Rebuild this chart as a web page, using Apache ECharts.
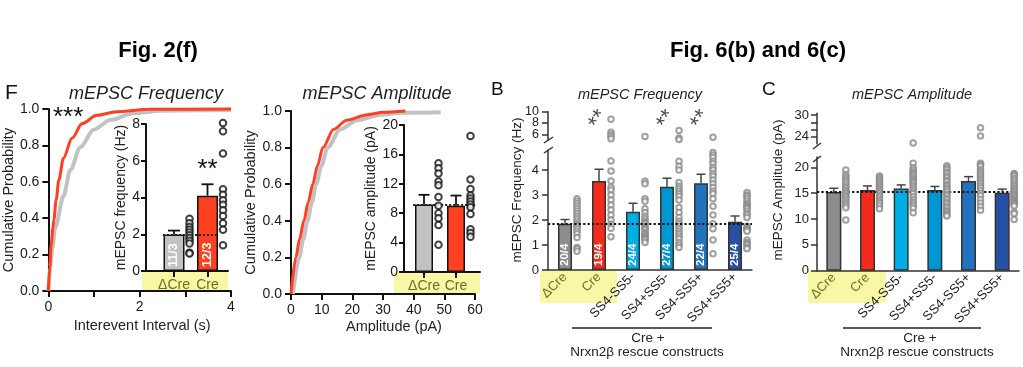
<!DOCTYPE html>
<html>
<head>
<meta charset="utf-8">
<script src="https://cdn.jsdelivr.net/npm/echarts@6.0.0/dist/echarts.min.js"></script>
<style>
html,body{margin:0;padding:0;background:#ffffff;}
#chart{width:1023px;height:367px;}
</style>
</head>
<body>
<div id="chart"></div>
<script>
// ================= DATA =================
// Fig. 2(f) — cumulative distribution, interevent interval (s)
const freqCtrlT = [0, 0.04, 0.09, 0.15, 0.33, 0.48, 0.7, 0.99, 1.36, 1.86, 2.45, 3.2, 4.0];
const freqCtrlP = [0, 0.13, 0.24, 0.35, 0.52, 0.665, 0.79, 0.886, 0.94, 0.977, 0.99, 0.993, 0.995];
const freqCreT  = [0, 0.03, 0.06, 0.1, 0.12, 0.17, 0.23, 0.33, 0.52, 0.74, 1.06, 1.5, 2.2, 4.0];
const freqCreP  = [0, 0.13, 0.25, 0.35, 0.39, 0.5, 0.61, 0.73, 0.84, 0.92, 0.965, 0.985, 0.998, 1.0];
// Fig. 2(f) — cumulative distribution, amplitude (pA)
const ampCtrlX = [0.6, 2.7, 4.0, 5.4, 6.8, 8.2, 9.9, 11.9, 16.1, 21.6, 29.3, 36, 48.8];
const ampCtrlP = [0, 0.2, 0.3, 0.4, 0.5, 0.6, 0.7, 0.8, 0.9, 0.95, 0.98, 0.99, 0.993];
const ampCreX  = [0, 1.6, 2.8, 4.2, 5.6, 7.1, 8.6, 10.4, 13.9, 18.2, 24.9, 30, 37.3];
const ampCreP  = [0, 0.2, 0.3, 0.4, 0.5, 0.6, 0.7, 0.8, 0.9, 0.95, 0.98, 0.993, 1.0];

// Fig. 2(f) insets
const catsF = ['ΔCre', 'Cre'];
const freqMeanF = [1.98, 4.1];
const freqSemF  = [0.22, 0.62];
const freqNF    = ['11/3', '12/3'];
const freqSigF  = ['', '**'];
const freqPtsF_dCre = [2.85, 2.6, 2.4, 2.25, 2.1, 1.95, 1.8, 1.65, 1.5, 1.0, 0.95];
const freqPtsF_Cre  = [8.05, 7.6, 6.4, 4.45, 4.15, 3.85, 3.6, 3.3, 3.0, 2.6, 2.25, 1.4];
const ampMeanF = [9.2, 9.0];
const ampSemF  = [1.3, 1.4];
const ampPtsF_dCre = [14.8, 14.1, 13.4, 12.3, 11.8, 10.2, 9.0, 8.0, 7.3, 6.4, 3.7];
const ampPtsF_Cre  = [18.5, 12.6, 11.3, 10.4, 10.0, 9.6, 9.2, 8.8, 7.9, 5.8, 5.3, 4.8];

// Fig. 6(b) — mEPSC frequency (Hz)
const catsR = ['ΔCre', 'Cre', 'SS4-SS5-', 'SS4+SS5-', 'SS4-SS5+', 'SS4+SS5+'];
const freqMeanB = [1.85, 3.56, 2.33, 3.33, 3.47, 1.93];
const freqSemB  = [0.17, 0.47, 0.34, 0.34, 0.36, 0.23];
const freqNB    = ['20/4', '19/4', '24/4', '27/4', '22/4', '25/4'];
const freqSigB  = ['', '**', '', '**', '**', ''];
const freqB_dCre = [2.85, 2.75, 2.65, 2.55, 2.45, 2.35, 2.25, 2.15, 2.05, 1.95, 1.85, 1.8, 1.75, 1.65, 1.55, 1.45, 1.3, 0.9, 0.85, 0.75];
const freqB_Cre  = [8.65, 6.35, 5.95, 5.6, 5.2, 4.36, 3.96, 3.56, 3.31, 3.2, 3.0, 2.8, 2.6, 2.4, 2.2, 2.0, 1.83, 1.67, 1.33];
const freqB_mm   = [5.6, 3.55, 3.45, 2.85, 2.75, 2.45, 2.3, 2.15, 2.05, 1.95, 1.9, 1.85, 1.75, 1.7, 1.65, 1.6, 1.5, 1.45, 1.4, 1.35, 1.3, 1.25, 1.2, 1.1];
const freqB_pm   = [6.7, 5.35, 5.1, 4.35, 4.15, 4.0, 3.5, 3.35, 3.25, 3.15, 3.05, 2.95, 2.8, 2.5, 2.3, 2.1, 1.95, 1.85, 1.75, 1.65, 1.55, 1.45, 1.35, 1.25, 1.1, 1.0, 0.9];
const freqB_mp   = [5.5, 4.7, 4.6, 4.5, 4.35, 4.25, 4.1, 4.0, 3.85, 3.75, 3.6, 3.45, 3.3, 3.15, 3.05, 2.85, 2.55, 2.2, 1.85, 1.65, 1.2, 0.65];
const freqB_pp   = [3.1, 3.0, 2.95, 2.85, 2.75, 2.65, 2.6, 2.55, 2.5, 2.45, 2.35, 2.25, 2.2, 2.1, 1.75, 1.7, 1.65, 1.6, 1.55, 1.2, 1.1, 1.05, 1.0, 0.9, 0.85];

// Fig. 6(c) — mEPSC amplitude (pA)
const ampMeanC = [15.25, 15.6, 15.9, 15.6, 17.35, 15.1];
const ampSemC  = [0.7, 0.8, 0.7, 0.7, 0.85, 0.7];
const ampC_dCre = [19.5, 18.6, 18.2, 17.8, 17.4, 17.0, 16.6, 16.2, 15.9, 15.5, 15.2, 14.9, 14.5, 14.2, 13.8, 13.4, 13.0, 12.6, 12.2, 9.8];
const ampC_Cre  = [18.3, 18.0, 17.7, 17.4, 17.1, 16.8, 16.5, 16.2, 15.9, 15.6, 15.3, 15.0, 14.6, 14.2, 13.8, 13.4, 13.0, 12.5, 12.0];
const ampC_mm   = [22.3, 20.8, 19.9, 19.5, 19.1, 18.8, 18.5, 18.2, 17.8, 17.5, 17.2, 16.9, 16.5, 16.1, 15.7, 15.3, 14.9, 14.3, 13.8, 13.3, 12.9, 12.5, 12.1, 11.2];
const ampC_pm   = [20.3, 19.9, 19.6, 19.1, 18.8, 18.3, 18.0, 17.5, 17.2, 16.7, 16.4, 16.0, 15.7, 15.3, 14.8, 14.5, 14.0, 13.7, 13.2, 12.9, 12.4, 12.1, 11.6, 11.4, 11.0, 10.8, 10.6];
const ampC_mp   = [26.5, 24.2, 20.8, 20.5, 20.2, 19.6, 19.2, 18.8, 18.4, 18.0, 17.6, 17.2, 16.8, 16.4, 16.0, 15.5, 15.0, 14.5, 13.8, 13.1, 12.4, 11.7];
const ampC_pp   = [18.8, 18.6, 18.3, 17.9, 17.5, 17.1, 16.7, 16.3, 15.9, 15.6, 15.3, 15.0, 14.7, 14.4, 14.1, 13.8, 13.6, 13.4, 13.2, 13.0, 12.8, 12.5, 11.3, 11.0, 9.9];

// ================= STYLE =================
const FONT = '"Liberation Sans", Arial, Helvetica, sans-serif';
const OLIVE = '#6e6e1e';
const YELLOW = '#f7f7a6';
const RED_F = '#ff4020';
const GRAY_F = '#c2c2c2';
const colorsR = ['#8c8c8c', '#f42a1c', '#00aee6', '#0096d4', '#2272bd', '#2650a3'];
const B_BREAK = 4.8;   // top of lower segment (Hz)
const C_BREAK = 22;    // top of lower segment (pA)

const pairs = (xs, ys) => xs.map((x, i) => [x, ys[i]]);
const groupPts = (groups, test) => {
  const out = [];
  groups.forEach((g, i) => g.forEach(v => { if (test(v)) out.push([i, v]); }));
  return out;
};
const freqB_all = [freqB_dCre, freqB_Cre, freqB_mm, freqB_pm, freqB_mp, freqB_pp];
const ampC_all  = [ampC_dCre, ampC_Cre, ampC_mm, ampC_pm, ampC_mp, ampC_pp];

function errRender(color, cap, lw, sig, sigFont, sigGap) {
  return function (params, api) {
    const i = api.value(0);
    const p0 = api.coord([i, api.value(1)]);
    const p1 = api.coord([i, api.value(2)]);
    const st = { stroke: color, lineWidth: lw };
    const ch = [
      { type: 'line', shape: { x1: p0[0], y1: p0[1], x2: p1[0], y2: p1[1] }, style: st },
      { type: 'line', shape: { x1: p1[0] - cap / 2, y1: p1[1], x2: p1[0] + cap / 2, y2: p1[1] }, style: st }
    ];
    if (sig && sig[params.dataIndex]) {
      ch.push({ type: 'text', x: p1[0], y: p1[1] - sigGap,
        style: { text: sig[params.dataIndex], fontSize: sigFont, fontFamily: FONT, fill: '#111', align: 'center', verticalAlign: 'middle' } });
    }
    return { type: 'group', children: ch };
  };
}
const errData = (m, s) => m.map((v, i) => [i, v, v + s[i]]);

const axK = { show: true, onZero: false, lineStyle: { color: '#111', width: 2 } };
const tkK = { show: true, length: 6, lineStyle: { color: '#111', width: 2 } };
const lbK = { color: '#1a1a1a', fontSize: 14, fontFamily: FONT };
const axG = { show: true, onZero: false, lineStyle: { color: '#333', width: 1.5 } };
const tkG = { show: true, length: 6, lineStyle: { color: '#333', width: 1.5 } };
const lbG = { color: '#222', fontSize: 13, fontFamily: FONT };
const nameK = { color: '#222', fontSize: 14.5, fontFamily: FONT };
const noSplit = { show: false };
const catLabels = catsR.map((c, i) => i < 2 ? { value: c, textStyle: { color: OLIVE } } : c);
const dotK = { color: '#222', type: 'dotted', width: 2 };
const ptsK = { color: '#111', borderWidth: 1.2 };
const ptsG = { color: '#8a8a8a', borderWidth: 1 };

const chart = echarts.init(document.getElementById('chart'), null, { renderer: 'canvas' });

const option = {
  animation: false,
  backgroundColor: '#ffffff',
  grid: [
    { left: 48, top: 109, width: 183, height: 182 },   // 0 F cumulative frequency
    { left: 146, top: 124, width: 82, height: 147 },   // 1 F inset frequency
    { left: 291, top: 111, width: 184, height: 183 },  // 2 F cumulative amplitude
    { left: 404, top: 125, width: 76, height: 147 },   // 3 F inset amplitude
    { left: 548, top: 111.7, width: 204, height: 28.3 }, // 4 B upper
    { left: 548, top: 150, width: 204, height: 120 },  // 5 B lower
    { left: 817, top: 113.2, width: 202, height: 30.8 }, // 6 C upper
    { left: 817, top: 157, width: 202, height: 113.7 } // 7 C lower
  ],
  xAxis: [
    { gridIndex: 0, type: 'value', min: 0, max: 4, interval: 1, axisLine: axK, axisTick: tkK, splitLine: noSplit,
      axisLabel: Object.assign({}, lbK, { margin: 9, formatter: v => (v % 2 === 0 ? String(v) : '') }),
      name: 'Interevent Interval (s)', nameLocation: 'middle', nameGap: 27,
      nameTextStyle: Object.assign({}, nameK, { padding: [0, 0, 0, 5] }) },
    { gridIndex: 1, type: 'value', min: -0.836, max: 1.612, axisLine: axK, splitLine: noSplit,
      axisTick: Object.assign({}, tkK, { customValues: [0, 1] }),
      axisLabel: { color: OLIVE, fontSize: 14, fontFamily: FONT, margin: 7, customValues: [0, 1], formatter: v => catsF[Math.round(v)] } },
    { gridIndex: 2, type: 'value', min: 0, max: 60, interval: 10, axisLine: axK, axisTick: tkK, splitLine: noSplit,
      axisLabel: Object.assign({}, lbK, { margin: 9 }),
      name: 'Amplitude (pA)', nameLocation: 'middle', nameGap: 25,
      nameTextStyle: Object.assign({}, nameK, { padding: [0, 0, 0, 22] }) },
    { gridIndex: 3, type: 'value', min: -0.625, max: 1.75, axisLine: axK, splitLine: noSplit,
      axisTick: Object.assign({}, tkK, { customValues: [0, 1] }),
      axisLabel: { color: OLIVE, fontSize: 14, fontFamily: FONT, margin: 7, customValues: [0, 1], formatter: v => catsF[Math.round(v)] } },
    { gridIndex: 4, type: 'category', data: catsR, show: false },
    { gridIndex: 5, type: 'category', data: catLabels, axisLine: axG, axisTick: { show: false }, splitLine: noSplit,
      axisLabel: Object.assign({}, lbG, { rotate: 45, margin: 5, interval: 0 }) },
    { gridIndex: 6, type: 'category', data: catsR, show: false },
    { gridIndex: 7, type: 'category', data: catLabels, axisLine: axG, axisTick: { show: false }, splitLine: noSplit,
      axisLabel: Object.assign({}, lbG, { rotate: 45, margin: 5, interval: 0 }) }
  ],
  yAxis: [
    { gridIndex: 0, type: 'value', min: 0, max: 1, interval: 0.2, axisLine: axK, axisTick: tkK, splitLine: noSplit,
      axisLabel: Object.assign({}, lbK, { margin: 9, formatter: v => v.toFixed(1) }),
      name: 'Cumulative Probability', nameLocation: 'middle', nameGap: 31, nameTextStyle: nameK },
    { gridIndex: 1, type: 'value', min: 0, max: 8, interval: 2, axisLine: axK, splitLine: noSplit,
      axisTick: Object.assign({}, tkK, { length: 5 }),
      axisLabel: Object.assign({}, lbK, { margin: 6 }),
      name: 'mEPSC frequency (Hz)', nameLocation: 'middle', nameGap: 14, nameTextStyle: Object.assign({}, nameK, { fontSize: 14 }) },
    { gridIndex: 2, type: 'value', min: 0, max: 1, interval: 0.2, axisLine: axK, axisTick: tkK, splitLine: noSplit,
      axisLabel: Object.assign({}, lbK, { margin: 9, formatter: v => v.toFixed(1) }),
      name: 'Cumulative Probability', nameLocation: 'middle', nameGap: 33, nameTextStyle: nameK },
    { gridIndex: 3, type: 'value', min: 0, max: 20, interval: 4, axisLine: axK, splitLine: noSplit,
      axisTick: Object.assign({}, tkK, { length: 5 }),
      axisLabel: Object.assign({}, lbK, { margin: 6 }),
      name: 'mEPSC amplitude (pA)', nameLocation: 'middle', nameGap: 23, nameTextStyle: Object.assign({}, nameK, { fontSize: 14 }) },
    { gridIndex: 4, type: 'value', min: 5, max: 10, axisLine: axG, splitLine: noSplit,
      axisTick: Object.assign({}, tkG, { customValues: [6, 8, 10] }),
      axisLabel: Object.assign({}, lbG, { fontSize: 12.5, margin: 9, customValues: [6, 10], showMinLabel: true, showMaxLabel: true }) },
    { gridIndex: 5, type: 'value', min: 0, max: B_BREAK, axisLine: axG, splitLine: noSplit,
      axisTick: Object.assign({}, tkG, { customValues: [0, 1, 2, 3, 4] }),
      axisLabel: Object.assign({}, lbG, { margin: 9, customValues: [0, 1, 2, 3, 4] }) },
    { gridIndex: 6, type: 'value', min: C_BREAK, max: 30.5, axisLine: axG, splitLine: noSplit,
      axisTick: Object.assign({}, tkG, { customValues: [24, 26, 28, 30] }),
      axisLabel: Object.assign({}, lbG, { margin: 8, customValues: [24, 30], showMinLabel: true, showMaxLabel: true }) },
    { gridIndex: 7, type: 'value', min: 0, max: C_BREAK, axisLine: axG, splitLine: noSplit,
      axisTick: Object.assign({}, tkG, { customValues: [0, 5, 10, 15, 20] }),
      axisLabel: Object.assign({}, lbG, { margin: 8, customValues: [0, 5, 10, 15, 20] }) },
    // overlay axis carrying the middle label of the upper B segment (avoids overlap hiding)
    { gridIndex: 4, type: 'value', min: 5, max: 10, position: 'left', axisLine: { show: false }, axisTick: { show: false }, splitLine: noSplit,
      axisLabel: Object.assign({}, lbG, { fontSize: 12.5, margin: 9, customValues: [8], showMinLabel: true, showMaxLabel: true }) }
  ],
  series: [
    // ---- F cumulative frequency
    { type: 'line', xAxisIndex: 0, yAxisIndex: 0, data: pairs(freqCtrlT, freqCtrlP), symbol: 'none', clip: false,
      smooth: 0.3, smoothMonotone: 'x', lineStyle: { color: GRAY_F, width: 4 }, z: 2 },
    { type: 'line', xAxisIndex: 0, yAxisIndex: 0, data: pairs(freqCreT, freqCreP), symbol: 'none', clip: false,
      smooth: 0.3, smoothMonotone: 'x', lineStyle: { color: RED_F, width: 3 }, z: 3 },
    // ---- F inset frequency
    { type: 'bar', xAxisIndex: 1, yAxisIndex: 1, barWidth: 21, z: 4,
      data: freqMeanF.map((v, i) => ({ value: [i, v], itemStyle: { color: i === 0 ? GRAY_F : RED_F } })),
      itemStyle: { borderColor: '#111', borderWidth: 1.5 },
      label: { show: true, position: 'insideBottom', rotate: 90, align: 'left', verticalAlign: 'middle', distance: 4,
        color: '#fff', fontWeight: 'bold', fontSize: 12.5, fontFamily: FONT, formatter: p => freqNF[p.dataIndex] },
      markLine: { silent: true, symbol: 'none', label: { show: false }, lineStyle: dotK,
        data: [[{ coord: [-0.33, freqMeanF[0]] }, { coord: [1.33, freqMeanF[0]] }]] } },
    { type: 'custom', xAxisIndex: 1, yAxisIndex: 1, z: 5, clip: false,
      renderItem: errRender('#111', 12, 1.8, freqSigF, 26, 14), data: errData(freqMeanF, freqSemF) },
    { type: 'scatter', xAxisIndex: 1, yAxisIndex: 1, z: 6, symbol: 'emptyCircle', symbolSize: 6.5, symbolOffset: [15.5, 0], clip: false,
      itemStyle: ptsK, data: groupPts([freqPtsF_dCre, freqPtsF_Cre], () => true) },
    // ---- F cumulative amplitude
    { type: 'line', xAxisIndex: 2, yAxisIndex: 2, data: pairs(ampCtrlX, ampCtrlP), symbol: 'none', clip: false,
      smooth: 0.3, smoothMonotone: 'x', lineStyle: { color: GRAY_F, width: 4 }, z: 2 },
    { type: 'line', xAxisIndex: 2, yAxisIndex: 2, data: pairs(ampCreX, ampCreP), symbol: 'none', clip: false,
      smooth: 0.3, smoothMonotone: 'x', lineStyle: { color: RED_F, width: 3 }, z: 3 },
    // ---- F inset amplitude
    { type: 'bar', xAxisIndex: 3, yAxisIndex: 3, barWidth: 18, z: 4,
      data: ampMeanF.map((v, i) => ({ value: [i, v], itemStyle: { color: i === 0 ? GRAY_F : RED_F } })),
      itemStyle: { borderColor: '#111', borderWidth: 1.5 },
      markLine: { silent: true, symbol: 'none', label: { show: false }, lineStyle: dotK,
        data: [[{ coord: [-0.34, ampMeanF[0]] }, { coord: [1.6, ampMeanF[0]] }]] } },
    { type: 'custom', xAxisIndex: 3, yAxisIndex: 3, z: 5, clip: false,
      renderItem: errRender('#111', 11, 1.8, null), data: errData(ampMeanF, ampSemF) },
    { type: 'scatter', xAxisIndex: 3, yAxisIndex: 3, z: 6, symbol: 'emptyCircle', symbolSize: 6.5, symbolOffset: [14.5, 0], clip: false,
      itemStyle: ptsK, data: groupPts([ampPtsF_dCre, ampPtsF_Cre], () => true) },
    // ---- B upper segment
    { type: 'scatter', xAxisIndex: 4, yAxisIndex: 4, z: 6, symbol: 'emptyCircle', symbolSize: 5.5, symbolOffset: [12, 0], clip: false,
      itemStyle: ptsG, data: groupPts(freqB_all, v => v > B_BREAK) },
    { type: 'scatter', xAxisIndex: 4, yAxisIndex: 4, z: 6, symbolSize: 0, clip: false,
      data: freqSigB.map((s, i) => [i, 8.6]).filter((d, i) => freqSigB[i]),
      label: { show: true, position: 'inside', rotate: 60, fontSize: 23, fontFamily: FONT, color: '#222',
        formatter: p => freqSigB[p.data[0]] } },
    // ---- B lower segment
    { type: 'bar', xAxisIndex: 5, yAxisIndex: 5, barWidth: 14, z: 4,
      data: freqMeanB.map((v, i) => ({ value: v, itemStyle: { color: colorsR[i] } })),
      itemStyle: { borderColor: '#333', borderWidth: 1.5 },
      label: { show: true, position: 'insideBottom', rotate: 90, align: 'left', verticalAlign: 'middle', distance: 4,
        color: '#fff', fontWeight: 'bold', fontSize: 11.5, fontFamily: FONT, formatter: p => freqNB[p.dataIndex] },
      markLine: { silent: true, symbol: 'none', label: { show: false }, z: 8,
        lineStyle: { color: '#111', type: 'dotted', width: 2.2 }, data: [{ yAxis: freqMeanB[0] }] } },
    { type: 'custom', xAxisIndex: 5, yAxisIndex: 5, z: 5, clip: false,
      renderItem: errRender('#444', 9, 1.5, null), data: errData(freqMeanB, freqSemB) },
    { type: 'scatter', xAxisIndex: 5, yAxisIndex: 5, z: 6, symbol: 'emptyCircle', symbolSize: 5.5, symbolOffset: [12, 0], clip: false,
      itemStyle: ptsG, data: groupPts(freqB_all, v => v <= B_BREAK) },
    // ---- C upper segment
    { type: 'scatter', xAxisIndex: 6, yAxisIndex: 6, z: 6, symbol: 'emptyCircle', symbolSize: 5.5, symbolOffset: [12, 0], clip: false,
      itemStyle: ptsG, data: groupPts(ampC_all, v => v > C_BREAK) },
    // ---- C lower segment
    { type: 'bar', xAxisIndex: 7, yAxisIndex: 7, barWidth: 15, z: 4,
      data: ampMeanC.map((v, i) => ({ value: v, itemStyle: { color: colorsR[i] } })),
      itemStyle: { borderColor: '#333', borderWidth: 1.5 },
      markLine: { silent: true, symbol: 'none', label: { show: false },
        lineStyle: { color: '#111', type: 'dotted', width: 2.2 }, data: [{ yAxis: ampMeanC[0] }] } },
    { type: 'custom', xAxisIndex: 7, yAxisIndex: 7, z: 5, clip: false,
      renderItem: errRender('#444', 9, 1.5, null), data: errData(ampMeanC, ampSemC) },
    { type: 'scatter', xAxisIndex: 7, yAxisIndex: 7, z: 6, symbol: 'emptyCircle', symbolSize: 5.5, symbolOffset: [12, 0], clip: false,
      itemStyle: ptsG, data: groupPts(ampC_all, v => v <= C_BREAK) }
  ],
  graphic: [
    // yellow highlight boxes (behind axes)
    { type: 'rect', z: -10, shape: { x: 142, y: 271, width: 86, height: 20 }, style: { fill: YELLOW } },
    { type: 'rect', z: -10, shape: { x: 394, y: 272, width: 86, height: 21 }, style: { fill: YELLOW } },
    { type: 'rect', z: -10, shape: { x: 540, y: 270, width: 77, height: 33 }, style: { fill: YELLOW } },
    { type: 'rect', z: -10, shape: { x: 808, y: 270, width: 78, height: 33 }, style: { fill: YELLOW } },
    // axis break marks
    { type: 'line', shape: { x1: 544, y1: 143, x2: 553, y2: 137 }, style: { stroke: '#333', lineWidth: 1.5 } },
    { type: 'line', shape: { x1: 544, y1: 153, x2: 553, y2: 147 }, style: { stroke: '#333', lineWidth: 1.5 } },
    { type: 'line', shape: { x1: 813, y1: 149, x2: 821, y2: 143 }, style: { stroke: '#333', lineWidth: 1.5 } },
    { type: 'line', shape: { x1: 813, y1: 162, x2: 821, y2: 156 }, style: { stroke: '#333', lineWidth: 1.5 } },
    // group brackets
    { type: 'line', shape: { x1: 572, y1: 328, x2: 712, y2: 328 }, style: { stroke: '#222', lineWidth: 1.5 } },
    { type: 'line', shape: { x1: 843, y1: 328, x2: 981, y2: 328 }, style: { stroke: '#222', lineWidth: 1.5 } },
    { type: 'text', x: 648, y: 338, style: { text: 'Cre +', fontSize: 13.5, fontFamily: FONT, fill: '#222', align: 'center', verticalAlign: 'middle' } },
    { type: 'text', x: 647, y: 352, style: { text: 'Nrxn2β rescue constructs', fontSize: 13.5, fontFamily: FONT, fill: '#222', align: 'center', verticalAlign: 'middle' } },
    { type: 'text', x: 920, y: 338, style: { text: 'Cre +', fontSize: 13.5, fontFamily: FONT, fill: '#222', align: 'center', verticalAlign: 'middle' } },
    { type: 'text', x: 917, y: 352, style: { text: 'Nrxn2β rescue constructs', fontSize: 13.5, fontFamily: FONT, fill: '#222', align: 'center', verticalAlign: 'middle' } },
    // figure headings
    { type: 'text', x: 158, y: 51, style: { text: 'Fig. 2(f)', fontSize: 22, fontWeight: 'bold', fontFamily: FONT, fill: '#000', align: 'center', verticalAlign: 'middle' } },
    { type: 'text', x: 758, y: 51, style: { text: 'Fig. 6(b) and 6(c)', fontSize: 22, fontWeight: 'bold', fontFamily: FONT, fill: '#000', align: 'center', verticalAlign: 'middle' } },
    // panel letters
    { type: 'text', x: 5, y: 93, style: { text: 'F', fontSize: 21, fontFamily: FONT, fill: '#111', align: 'left', verticalAlign: 'middle' } },
    { type: 'text', x: 491, y: 90, style: { text: 'B', fontSize: 19, fontFamily: FONT, fill: '#111', align: 'left', verticalAlign: 'middle' } },
    { type: 'text', x: 762, y: 90, style: { text: 'C', fontSize: 19, fontFamily: FONT, fill: '#111', align: 'left', verticalAlign: 'middle' } },
    // panel titles
    { type: 'text', x: 146, y: 94, style: { text: 'mEPSC Frequency', fontSize: 18, fontStyle: 'italic', fontFamily: FONT, fill: '#222', align: 'center', verticalAlign: 'middle' } },
    { type: 'text', x: 377, y: 94, style: { text: 'mEPSC Amplitude', fontSize: 18, fontStyle: 'italic', fontFamily: FONT, fill: '#222', align: 'center', verticalAlign: 'middle' } },
    { type: 'text', x: 640, y: 95, style: { text: 'mEPSC Frequency', fontSize: 14.5, fontStyle: 'italic', fontFamily: FONT, fill: '#222', align: 'center', verticalAlign: 'middle' } },
    { type: 'text', x: 912, y: 95, style: { text: 'mEPSC Amplitude', fontSize: 14.5, fontStyle: 'italic', fontFamily: FONT, fill: '#222', align: 'center', verticalAlign: 'middle' } },
    // y-axis titles for broken axes
    { type: 'text', x: 517, y: 190, rotation: Math.PI / 2, style: { text: 'mEPSC Frequency (Hz)', fontSize: 13.5, fontFamily: FONT, fill: '#222', align: 'center', verticalAlign: 'middle' } },
    { type: 'text', x: 778, y: 190, rotation: Math.PI / 2, style: { text: 'mEPSC Amplitude (pA)', fontSize: 13.5, fontFamily: FONT, fill: '#222', align: 'center', verticalAlign: 'middle' } },
    // significance of the cumulative distributions
    { type: 'text', x: 53, y: 118, style: { text: '***', fontSize: 26, fontFamily: FONT, fill: '#111', align: 'left', verticalAlign: 'middle' } }
  ]
};
chart.setOption(option);
</script>
</body>
</html>
